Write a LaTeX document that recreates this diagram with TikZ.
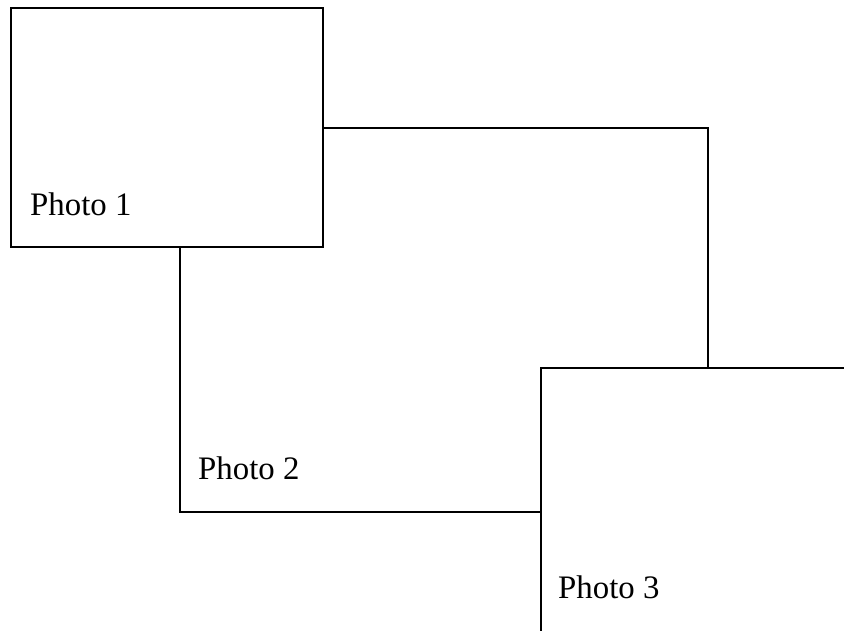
\documentclass[tikz,border=0pt]{standalone}
\usepackage{fontspec}
\setmainfont{Liberation Serif}
\usetikzlibrary{positioning}

\begin{document}
\begin{tikzpicture}[x=0.03cm, y=-0.03cm,
  % Box Styles
  photobox/.style={rectangle, draw, fill=white, line width=1.6pt, inner sep=0pt, anchor=north west},
  photolabel/.style={anchor=base west, inner sep=0pt, font=\fontsize{28}{34}\selectfont},
]
\useasboundingbox (0,0) rectangle (844,630);
\clip (0,0) rectangle (844,630);

% Photo layout: back to front

\node[photobox, minimum width=15.84cm, minimum height=11.52cm] (photo2) at (179,127) {};
\node[photobox, minimum width=9.36cm, minimum height=7.17cm] (photo1) at (10,7) {};
\node[photobox, minimum width=9.9cm, minimum height=7.97cm] (photo3) at (540,367) {};

\node[photolabel] (label1) at (30,215) {Photo 1};
\node[photolabel] (label2) at (198,479) {Photo 2};
\node[photolabel] (label3) at (558,598) {Photo 3};

\end{tikzpicture}
\end{document}
